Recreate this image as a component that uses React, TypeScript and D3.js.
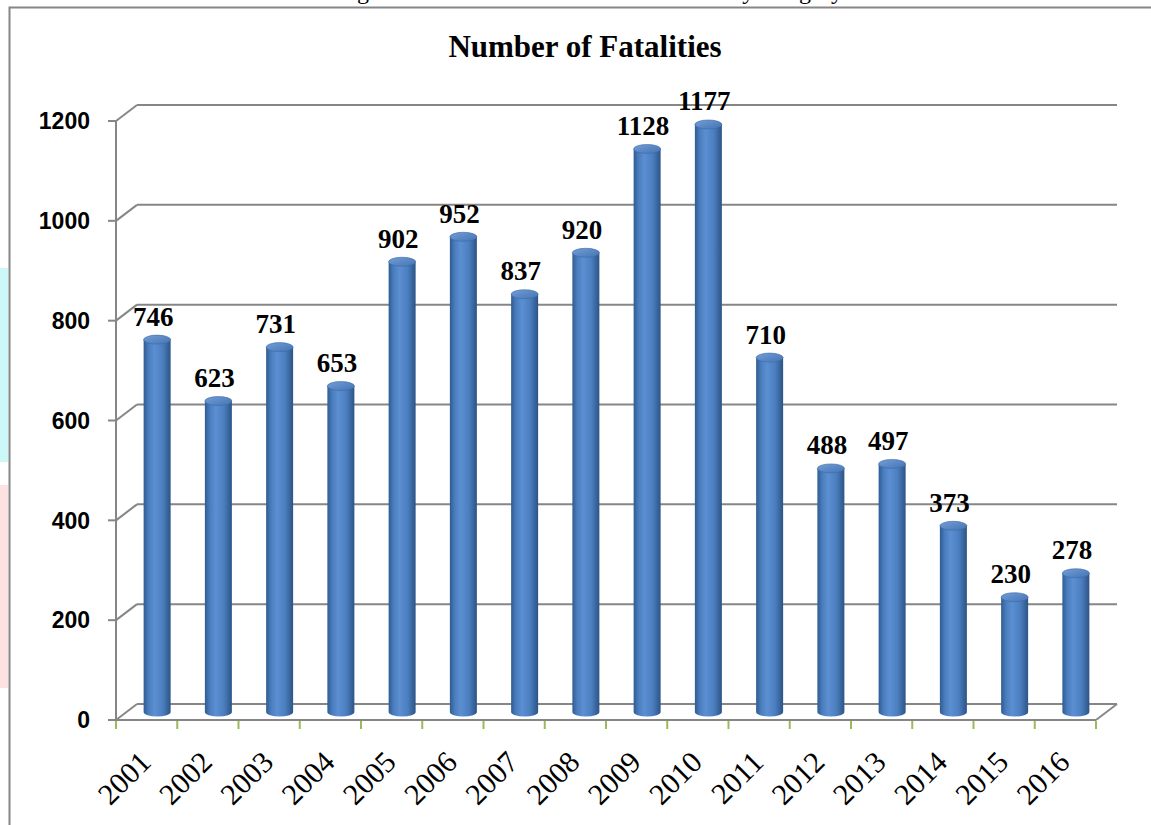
import React from 'react';
import * as d3 from 'd3';

const years = ['2001', '2002', '2003', '2004', '2005', '2006', '2007', '2008',
  '2009', '2010', '2011', '2012', '2013', '2014', '2015', '2016'];
const fatalities = [746, 623, 731, 653, 902, 952, 837, 920, 1128, 1177, 710, 488, 497, 373, 230, 278];
const yTicks = [0, 200, 400, 600, 800, 1000, 1200];

const W = 1151;
const H = 825;
const left = 116;
const right = 1096;
const base = 720;
const top = 121;
const dx = 21;
const dy = -16;
const grid = '#868686';
const serif = 'Liberation Serif, Times New Roman, serif';

const App = () => {
  const x = d3.scaleBand().domain(years).range([left, right]).padding(0);
  const y = d3.scaleLinear().domain([0, 1200]).range([base, top]);
  const bw = 27;
  const rx = bw / 2;
  const ry = 4.5;

  return (
    <svg width={W} height={H} style={{ position: 'absolute', left: 0, top: 0, background: '#fff' }}>
      <defs>
        <linearGradient id="cyl" x1="0" x2="1" y1="0" y2="0">
          <stop offset="0%" stopColor="#2f5b91" />
          <stop offset="18%" stopColor="#4a7dbd" />
          <stop offset="40%" stopColor="#5b8fd2" />
          <stop offset="70%" stopColor="#4c7fc0" />
          <stop offset="100%" stopColor="#2c5486" />
        </linearGradient>
        <linearGradient id="cap" x1="0" x2="1" y1="0" y2="1">
          <stop offset="0%" stopColor="#739ed8" />
          <stop offset="100%" stopColor="#4474b2" />
        </linearGradient>
      </defs>

      {/* faint watermark strips at the left edge */}
      <rect x={0} y={268} width={8} height={194} fill="#ccf8f8" />
      <rect x={0} y={485} width={8} height={203} fill="#fde2e2" />

      {/* caption, cut off by the crop in the source */}
      <text x={590} y={-1} textAnchor="middle" fontFamily={serif}
        fontSize={24} fill="#000">Figure 4.1: Year wise fatalities in Militancy category</text>

      <rect x={9.5} y={7.5} width={1200} height={900} fill="none" stroke={grid} strokeWidth={2} />

      <text x={585} y={57} textAnchor="middle" fontFamily={serif}
        fontWeight="bold" fontSize={31}>Number of Fatalities</text>

      {/* back wall gridlines + side wall */}
      {yTicks.map(t => (
        <g key={t}>
          {t > 0 && <line x1={left + dx} x2={right + dx} y1={y(t) + dy} y2={y(t) + dy} stroke={grid} strokeWidth={2} />}
          <line x1={left} x2={left + dx} y1={y(t)} y2={y(t) + dy} stroke={grid} strokeWidth={2} />
          <line x1={left - 8} x2={left} y1={y(t)} y2={y(t)} stroke={grid} strokeWidth={2} />
          <text x={90} y={y(t)} dy="0.36em" textAnchor="end" fontFamily="Liberation Sans, Arial, sans-serif"
            fontWeight="bold" fontSize={23}>{t}</text>
        </g>
      ))}
      <line x1={left} x2={left} y1={top} y2={base} stroke={grid} strokeWidth={2} />

      {/* floor */}
      <line x1={left + dx} x2={right + dx} y1={base + dy} y2={base + dy} stroke={grid} strokeWidth={2} />
      <line x1={right} x2={right + dx} y1={base} y2={base + dy} stroke={grid} strokeWidth={2} />
      <line x1={left} x2={right} y1={base} y2={base} stroke={grid} strokeWidth={2} />
      {[...years, 'end'].map((yr, i) => {
        const tx = left + i * x.bandwidth();
        return <line key={yr} x1={tx} x2={tx} y1={base + 1} y2={base + 9} stroke="#9bbb59" strokeWidth={2} />;
      })}

      {/* cylinders */}
      {years.map((yr, i) => {
        const cx = (x(yr) as number) + x.bandwidth() / 2 + dx / 2;
        const yb = base + dy / 2;
        const yt = y(fatalities[i]) + dy / 2;
        const body = `M${cx - rx},${yt} L${cx - rx},${yb} A${rx},${ry} 0 0 0 ${cx + rx},${yb} L${cx + rx},${yt} Z`;
        return (
          <g key={yr}>
            <path d={body} fill="url(#cyl)" />
            <ellipse cx={cx} cy={yt} rx={rx} ry={ry} fill="url(#cap)" stroke="#3a6aa6" strokeWidth={0.6} />
            <text x={cx - 4} y={yt - 14} textAnchor="middle" fontFamily={serif}
              fontWeight="bold" fontSize={27}>{fatalities[i]}</text>
          </g>
        );
      })}

      {/* x labels */}
      {years.map(yr => {
        const lx = (x(yr) as number) + x.bandwidth() / 2 + 6;
        const ly = 764;
        return (
          <text key={yr} x={lx} y={ly} transform={`rotate(-45 ${lx} ${ly})`} textAnchor="end"
            fontFamily={serif} fontSize={30}>{yr}</text>
        );
      })}
    </svg>
  );
};

export default App;
